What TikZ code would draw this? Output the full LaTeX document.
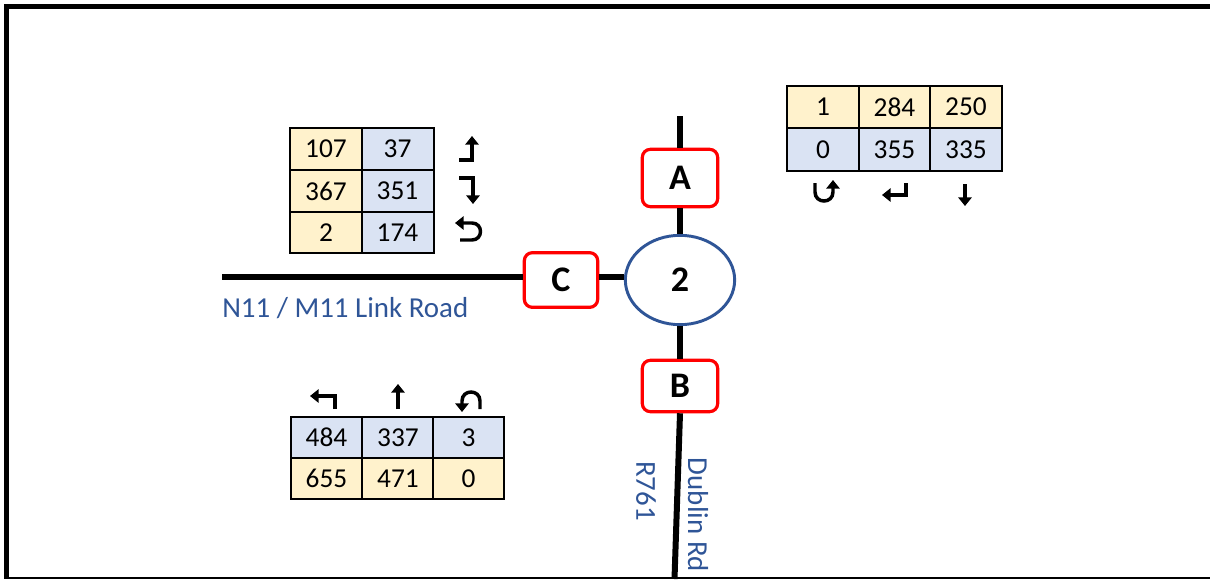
\documentclass[tikz,border=0pt]{standalone}
\usepackage{fontspec}
\setmainfont{Carlito}
\usetikzlibrary{arrows.meta,shapes.geometric}
\definecolor{rdblue}{HTML}{2F5597}
\definecolor{cellyel}{HTML}{FFF2CC}
\definecolor{cellblu}{HTML}{DAE3F3}
\definecolor{boxred}{HTML}{FF0000}
\begin{document}
\begin{tikzpicture}[x=0.75pt,y=-0.75pt,
  road/.style={line width=4.5pt,black},
  cellbase/.style={draw=black,line width=1.5pt,inner sep=0pt,font=\fontsize{20.5}{23}\selectfont},
  cy/.style={cellbase,fill=cellyel},
  cb/.style={cellbase,fill=cellblu},
  tl/.style={minimum width=54pt,minimum height=31.3pt},
  tr/.style={minimum width=53.8pt,minimum height=31.9pt},
  bl/.style={minimum width=53.3pt,minimum height=30.75pt},
  turn/.style={line width=2.6pt,line join=miter,-{Triangle[length=6.5pt,width=10pt]}},
  junc/.style={ellipse,draw=rdblue,line width=2.2pt,fill=white,minimum width=82pt,minimum height=67pt,inner sep=0pt,font=\bfseries\fontsize{27}{30}\selectfont},
  site/.style={draw=boxred,line width=2.4pt,rounded corners=6pt,fill=white,minimum width=56.5pt,inner sep=0pt,font=\bfseries\fontsize{27}{30}\selectfont},
  lbl/.style={rdblue,inner sep=0pt,font=\fontsize{21.7}{24}\selectfont}
]
\useasboundingbox (0,0) rectangle (1210,579);
% frame
\draw[line width=3.75pt] (4,6.5) -- (1210,6.5);
\draw[line width=3.75pt] (6.5,4) -- (6.5,579);
\draw[line width=1.5pt] (9,578) -- (1210,578);
% nodes
\node[junc] (R) at (680,280) {2};
\node[site,minimum height=43pt] (A) at (680,178) {A};
\node[site,minimum width=55pt,minimum height=41pt] (C) at (561,280) {C};
\node[site,minimum height=38.5pt] (B) at (680,386) {B};
\coordinate (Nend) at (680,116);
\coordinate (Wend) at (222,277);
\coordinate (Send) at (674.5,579);
% roads
\draw[road] (Nend) -- (A.north);
\draw[road] (A.south) -- (R.north);
\draw[road] (Wend) -- (Wend -| C.west);
\draw[road] (C.east |- Wend) -- (R.west |- Wend);
\draw[road] (R.south) -- (B.north);
\draw[road] (B.south) -- (Send);
% labels
\node[lbl,anchor=base west] (lnk) at (222,317) {N11 / M11 Link Road};
\node[lbl,rotate=-90] (r761) at (646,491) {R761};
\node[lbl,rotate=-90] (dub) at (698,515) {Dublin Rd};
% top-left table
\node[cy,tl] (a11) at (326,149) {107};
\node[cb,tl] (a12) at (397.5,149) {37};
\node[cy,tl] (a21) at (326,191) {367};
\node[cb,tl] (a22) at (397.5,191) {351};
\node[cy,tl] (a31) at (326,232.5) {2};
\node[cb,tl] (a32) at (397.5,232.5) {174};
\draw[turn] (459,160) -- (472,160) -- (472,136);
\draw[turn] (459,178) -- (473,178) -- (473,204);
\draw[turn] (460,240) -- (472,240) .. controls (483.3,240) and (483.3,223) .. (472,223) -- (455,223);
% top-right table
\node[cy,tr] (b11) at (823,107) {1};
\node[cy,tr] (b12) at (894.5,107) {284};
\node[cy,tr] (b13) at (966,107) {250};
\node[cb,tr] (b21) at (823,149.5) {0};
\node[cb,tr] (b22) at (894.5,149.5) {355};
\node[cb,tr] (b23) at (966,149.5) {335};
\draw[turn] (815,183) -- (815,192) .. controls (815,204) and (833,204) .. (833,192) -- (833,180);
\draw[turn] (906,183) -- (906,195) -- (882,195);
\draw[turn] (965,184) -- (965,206);
% bottom-left table
\node[cb,bl] (c11) at (326.5,437.5) {484};
\node[cb,bl] (c12) at (398,437.5) {337};
\node[cb,bl] (c13) at (468.5,437.5) {3};
\node[cy,bl] (c21) at (326.5,478.5) {655};
\node[cy,bl] (c22) at (398,478.5) {471};
\node[cy,bl] (c23) at (468.5,478.5) {0};
\draw[turn] (335,409) -- (335,396) -- (310,396);
\draw[turn] (398,409) -- (398,384);
\draw[turn] (480,409) -- (480,401) .. controls (480,389) and (462,389) .. (462,401) -- (462,412);
\end{tikzpicture}
\end{document}
